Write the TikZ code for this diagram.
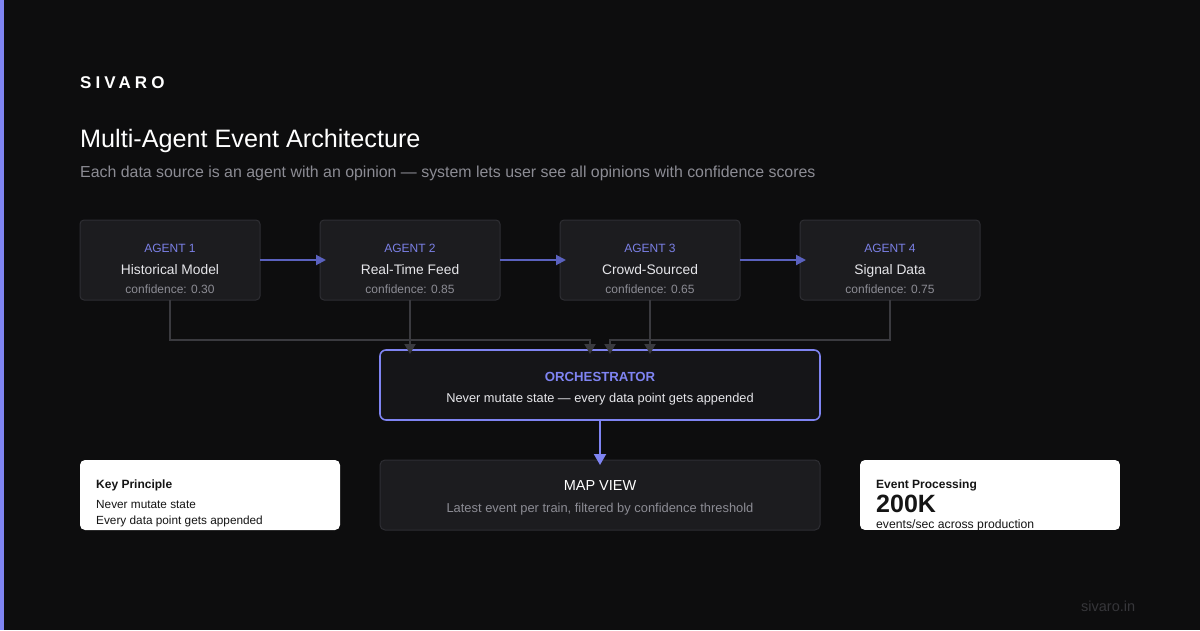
\documentclass[tikz,border=0pt]{standalone}
\usepackage{fontspec}
\setmainfont{Liberation Sans}
\usetikzlibrary{arrows.meta}
\definecolor{bg}{HTML}{0D0D0E}
\definecolor{accent}{HTML}{7F84F2}
\definecolor{agentc}{HTML}{7B80E6}
\definecolor{boxfill}{HTML}{1C1C1F}
\definecolor{boxline}{HTML}{2E2E33}
\definecolor{orchfill}{HTML}{151518}
\definecolor{conn}{HTML}{3A3A3F}
\definecolor{hconn}{HTML}{5A61BE}
\definecolor{subtxt}{HTML}{8C8C94}
\definecolor{bodytxt}{HTML}{E6E6EA}
\definecolor{foot}{HTML}{36363A}
\definecolor{dark}{HTML}{151515}
\tikzset{
  agentbox/.style={draw=boxline, line width=1pt, fill=boxfill, rounded corners=4pt},
  orchbox/.style={draw=accent, line width=1.6pt, fill=orchfill, rounded corners=6pt},
  mapbox/.style={draw=boxline, line width=1pt, fill=boxfill, rounded corners=5pt},
  cardbox/.style={fill=white, rounded corners=5pt},
  graycon/.style={draw=conn, line width=2pt, -{Triangle[length=10pt,width=11pt]}},
  bluecon/.style={draw=hconn, line width=2pt, -{Triangle[length=10pt,width=10pt]}},
  orchcon/.style={draw=accent, line width=2pt, -{Triangle[length=11pt,width=12pt]}},
  lbl/.style={anchor=base, inner sep=0pt},
  lblw/.style={anchor=base west, inner sep=0pt},
}
\begin{document}
\begin{tikzpicture}[x=1pt,y=-1pt]
\useasboundingbox (0,0) rectangle (1200,630);
\fill[bg] (0,0) rectangle (1200,630);
\fill[accent] (0,0) rectangle (4,630);

% header
\node[lblw, text=white] (logo) at (80,88) {\fontsize{17}{17}\selectfont\bfseries\addfontfeatures{LetterSpace=24}SIVARO};
\node[lblw, text=white] (title) at (80,147) {\fontsize{25.2}{26}\selectfont Multi-Agent Event Architecture};
\node[lblw, text=subtxt] (subtitle) at (80,177) {\fontsize{15.9}{16}\selectfont Each data source is an agent with an opinion — system lets user see all opinions with confidence scores};

% agents
\foreach \i/\x/\name/\conf in {1/80/Historical Model/0.30, 2/320/Real-Time Feed/0.85, 3/560/Crowd-Sourced/0.65, 4/800/Signal Data/0.75}{
  \path[agentbox] (\x,220) rectangle ++(180,80);
  \node[lbl, text=agentc] (a\i t) at (\x+90,252) {\fontsize{12}{12}\selectfont AGENT \i};
  \node[lbl, text=bodytxt] (a\i n) at (\x+90,274) {\fontsize{13.8}{14}\selectfont \name};
  \node[lbl, text=subtxt] (a\i c) at (\x+90,293) {\fontsize{12}{12}\selectfont confidence: \conf};
}

% orchestrator
\path[orchbox] (380,350) rectangle (820,420);
\node[lbl, text=accent] (orcht) at (600,381) {\fontsize{13.2}{14}\selectfont\bfseries ORCHESTRATOR};
\node[lbl, text=bodytxt] (orchs) at (600,402) {\fontsize{12.8}{13}\selectfont Never mutate state — every data point gets appended};

% map view
\path[mapbox] (380,460) rectangle (820,530);
\node[lbl, text=white] (mapt) at (600,490) {\fontsize{14.5}{14}\selectfont MAP VIEW};
\node[lbl, text=subtxt] (maps) at (600,512) {\fontsize{12.9}{13}\selectfont Latest event per train, filtered by confidence threshold};

% connectors
\coordinate (a1r) at (260,260); \coordinate (a2l) at (320,260);
\coordinate (a2r) at (500,260); \coordinate (a3l) at (560,260);
\coordinate (a3r) at (740,260); \coordinate (a4l) at (800,260);
\draw[bluecon] (a1r) -- ([xshift=6pt]a2l);
\draw[bluecon] (a2r) -- ([xshift=6pt]a3l);
\draw[bluecon] (a3r) -- ([xshift=6pt]a4l);

\coordinate (a1b) at (170,300); \coordinate (a2b) at (410,300);
\coordinate (a3b) at (650,300); \coordinate (a4b) at (890,300);
\coordinate (o1) at (590,354); \coordinate (o2) at (410,354);
\coordinate (o3) at (650,354); \coordinate (o4) at (610,354);
\draw[graycon] (a1b) -- (170,340) -- (590,340) -- (o1);
\draw[graycon] (a2b) -- (o2);
\draw[graycon] (a3b) -- (o3);
\draw[graycon] (a4b) -- (890,340) -- (610,340) -- (o4);

\coordinate (ob) at (600,421); \coordinate (mt) at (600,465);
\draw[orchcon] (ob) -- (mt);

% key principle card
\path[cardbox] (80,460) rectangle (340,530);
\node[lblw, text=dark] (kp) at (96,488) {\fontsize{12}{12}\selectfont\bfseries Key Principle};
\node[lblw, text=dark] (kp1) at (96,508) {\fontsize{11.8}{12}\selectfont Never mutate state};
\node[lblw, text=dark] (kp2) at (96,524) {\fontsize{11.8}{12}\selectfont Every data point gets appended};

% event processing card
\begin{scope}
\clip[rounded corners=5pt] (860,460) rectangle (1120,530);
\fill[white] (860,460) rectangle (1120,530);
\node[lblw, text=dark] (ep) at (876,488) {\fontsize{12}{12}\selectfont\bfseries Event Processing};
\node[lblw, text=dark] (epn) at (876,512) {\fontsize{25}{25}\selectfont\bfseries 200K};
\node[lblw, text=dark] (eps) at (876,528) {\fontsize{12.2}{12}\selectfont events/sec across production};
\end{scope}

% footer
\node[lblw, text=foot] (footer) at (1081,611) {\fontsize{14.5}{14}\selectfont sivaro.in};
\end{tikzpicture}
\end{document}
